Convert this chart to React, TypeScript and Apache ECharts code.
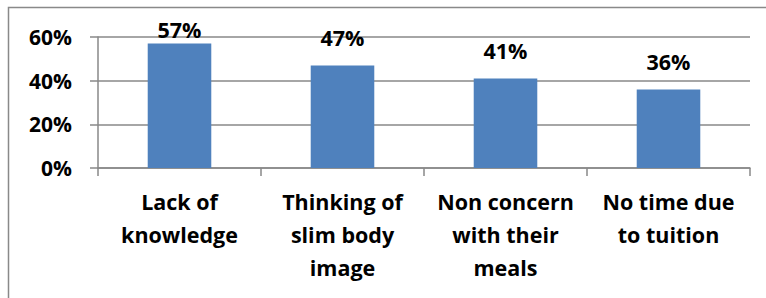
import React, { useEffect, useRef } from "react";
import * as echarts from "echarts";

const categories = [
  "Lack of\nknowledge",
  "Thinking of\nslim body\nimage",
  "Non concern\nwith their\nmeals",
  "No time due\nto tuition",
];
const values = [57, 47, 41, 36];
const labelDistances = [3, 17, 17, 17];
const yMin = 0;
const yMax = 60;
const yInterval = 20;

const FONT = "'Open Sans', 'Noto Sans', sans-serif";
const GRAY = "#898989";

export default function App() {
  const ref = useRef<HTMLDivElement>(null);
  useEffect(() => {
    document.body.style.margin = "0";
    if (!ref.current) return;
    const chart = echarts.init(ref.current, undefined, { renderer: "svg" });
    chart.setOption({
      animation: false,
      backgroundColor: "#ffffff",
      graphic: [
        {
          type: "rect",
          shape: { x: 8.5, y: 7.5, width: 900, height: 500 },
          style: { fill: "none", stroke: GRAY, lineWidth: 1.5 },
          silent: true,
        },
      ],
      grid: { left: 98, right: 16, top: 37, bottom: 130 },
      xAxis: {
        type: "category",
        data: categories,
        axisLine: { show: true, lineStyle: { color: GRAY, width: 1.5 } },
        axisTick: { show: true, length: 8, lineStyle: { color: GRAY, width: 1.5 } },
        axisLabel: {
          interval: 0,
          margin: 17,
          color: "#000",
          fontFamily: FONT,
          fontWeight: "bold",
          fontSize: 21.5,
          lineHeight: 33,
        },
      },
      yAxis: {
        type: "value",
        min: yMin,
        max: yMax,
        interval: yInterval,
        axisLine: { show: true, lineStyle: { color: GRAY, width: 1.5 } },
        axisTick: { show: true, length: 8, lineStyle: { color: GRAY, width: 1.5 } },
        splitLine: { show: true, lineStyle: { color: GRAY, width: 1.5 } },
        axisLabel: {
          formatter: "{value}%",
          margin: 26,
          color: "#000",
          fontFamily: FONT,
          fontWeight: "bold",
          fontSize: 21,
        },
      },
      series: [
        {
          type: "bar",
          barWidth: "39%",
          data: values.map((v, i) => ({
            value: v,
            label: { distance: labelDistances[i] },
          })),
          itemStyle: { color: "#4F81BD" },
          label: {
            show: true,
            position: "top",
            formatter: "{c}%",
            color: "#000",
            fontFamily: FONT,
            fontWeight: "bold",
            fontSize: 21.5,
          },
        },
      ],
    });
    return () => chart.dispose();
  }, []);
  return <div ref={ref} style={{ width: 766, height: 298 }} />;
}
